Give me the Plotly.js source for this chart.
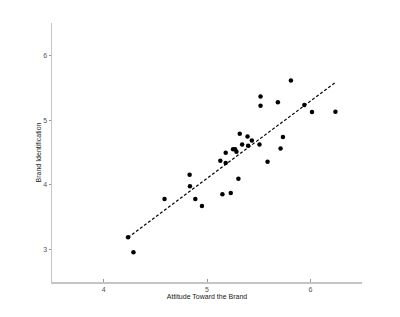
<!DOCTYPE html>
<html>
<head>
<meta charset="utf-8">
<script src="https://cdn.plot.ly/plotly-3.0.1.min.js"></script>
<style>html,body{margin:0;padding:0;background:#fff;}#chart{width:400px;height:317px;}</style>
</head>
<body>
<div id="chart"></div>
<script>
const attitude = [4.236,4.288,4.589,4.832,4.835,4.887,4.951,5.129,5.149,5.181,5.181,5.230,5.252,5.272,5.285,5.304,5.317,5.340,5.392,5.398,5.434,5.508,5.518,5.518,5.586,5.686,5.712,5.735,5.812,5.942,6.016,6.243];
const identification = [3.19,2.96,3.78,4.155,3.98,3.78,3.673,4.373,3.855,4.497,4.337,3.876,4.549,4.549,4.513,4.093,4.788,4.622,4.746,4.606,4.684,4.622,5.363,5.223,4.358,5.275,4.56,4.741,5.611,5.233,5.124,5.13];
const xTicks = [4,5,6];
const yTicks = [3,4,5,6];

// least-squares fit line from min to max x
const n = attitude.length;
const mx = attitude.reduce((a,b)=>a+b,0)/n;
const my = identification.reduce((a,b)=>a+b,0)/n;
let sxy=0, sxx=0;
for (let i=0;i<n;i++){ sxy+=(attitude[i]-mx)*(identification[i]-my); sxx+=(attitude[i]-mx)**2; }
const slope = sxy/sxx, icpt = my - slope*mx;
const xmin = Math.min(...attitude), xmax = Math.max(...attitude);
const fitX = [xmin, xmax];
const fitY = fitX.map(x => icpt + slope*x);

const FONT = 'Liberation Sans, Arial, sans-serif';
const axisCommon = {
  showgrid:false, zeroline:false, showline:true, linecolor:'#c4c4c4', linewidth:1.5,
  ticks:'inside', ticklen:3, tickcolor:'#999', tickwidth:1,
  tickfont:{family:FONT, size:7, color:'#555'}
};

Plotly.newPlot('chart', [
  {x:attitude, y:identification, mode:'markers', type:'scatter',
   marker:{color:'#000', size:4.5}, hoverinfo:'skip'},
  {x:fitX, y:fitY, mode:'lines', type:'scatter',
   line:{color:'#000', width:1.2, dash:'3px,2px'}, hoverinfo:'skip'}
], {
  width:400, height:317,
  margin:{l:52, r:38, t:23, b:35},
  paper_bgcolor:'#fff', plot_bgcolor:'#fff',
  showlegend:false,
  xaxis: Object.assign({}, axisCommon, {range:[3.5,6.5], tickvals:xTicks,
    title:{text:'Attitude Toward the Brand', standoff:2, font:{family:FONT, size:7, color:'#222'}}}),
  yaxis: Object.assign({}, axisCommon, {range:[2.5,6.5], tickvals:yTicks, ticks:'outside', ticklen:2,
    title:{text:'Brand Identification', standoff:0, font:{family:FONT, size:7, color:'#222'}}})
}, {staticPlot:true});
</script>
</body>
</html>
